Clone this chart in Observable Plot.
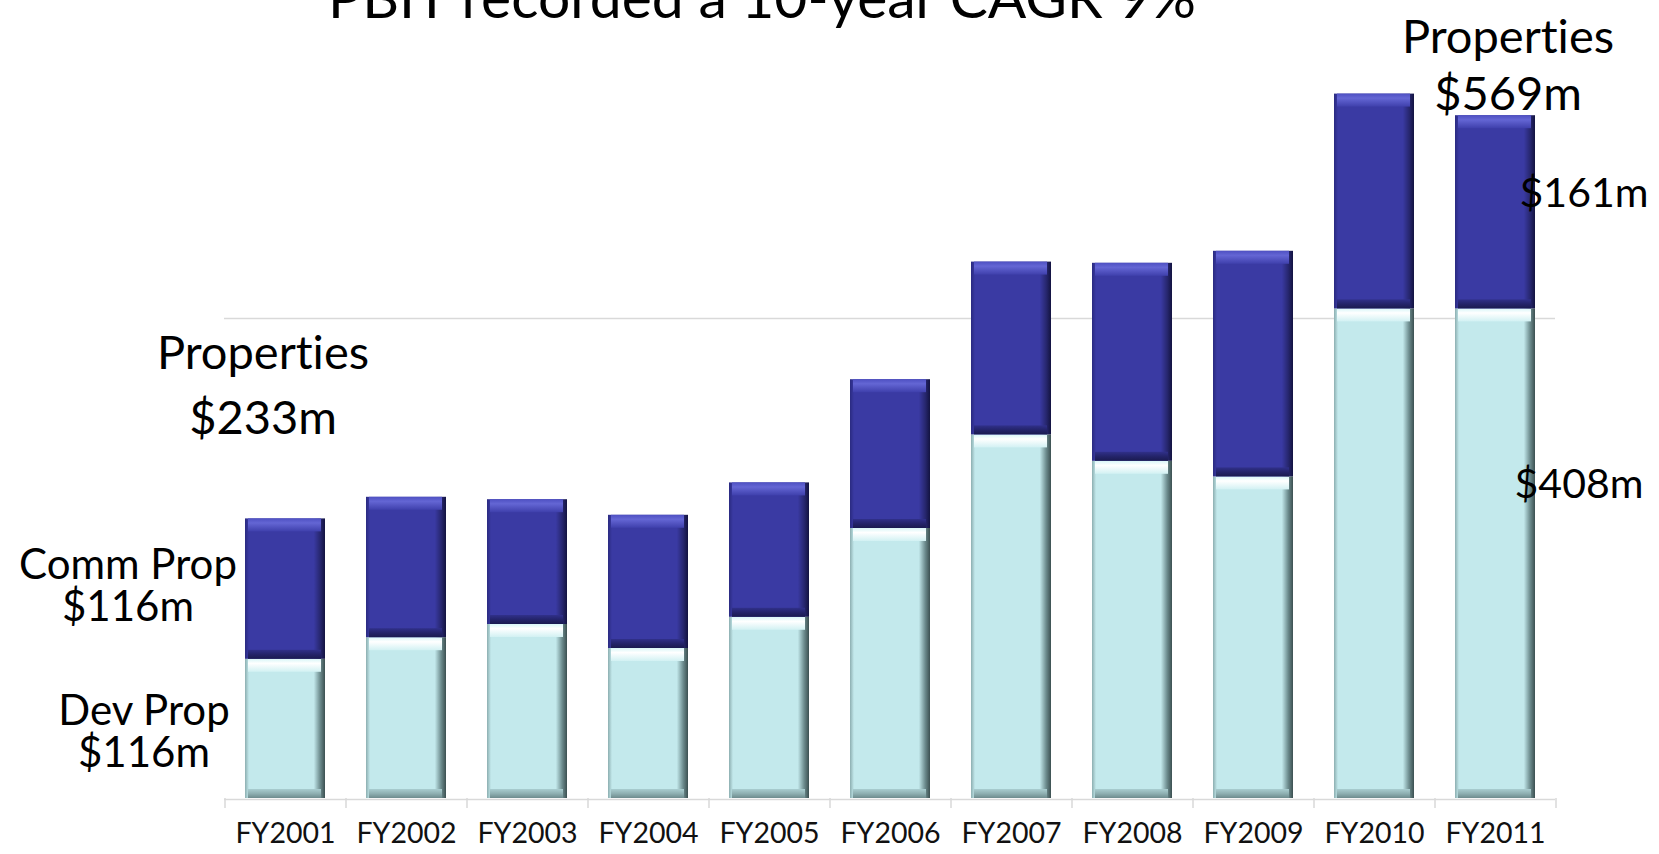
<!DOCTYPE html>
<html>
<head>
<meta charset="utf-8">
<script src="https://cdn.jsdelivr.net/npm/d3@7"></script>
<script src="https://cdn.jsdelivr.net/npm/@observablehq/plot@0.6"></script>
<style>
  html, body { margin: 0; padding: 0; background: #fff; overflow: hidden; }
  #wrap { position: relative; width: 1659px; height: 854px; }
  #title { position: absolute; left: 0; top: -32px; width: 1524px; text-align: center;
           font-family: Lato, "Open Sans", sans-serif; font-size: 57px; line-height: 1; color: #000;
           white-space: nowrap; font-variant-ligatures: none; }
  #chart svg { display: block; font-variant-ligatures: none; }
</style>
</head>
<body>
<div id="wrap">
  <div id="chart"></div>
  <div id="title">PBIT recorded a 10-year CAGR 9%</div>
</div>
<script>
// ---- data ----
const years = ["FY2001","FY2002","FY2003","FY2004","FY2005","FY2006","FY2007","FY2008","FY2009","FY2010","FY2011"];
const devProp  = [116, 134, 145, 125, 151, 225, 303, 281, 268, 408, 408];
const commProp = [117, 117, 104, 111, 112, 124, 144, 165, 188, 179, 161];
const gridValues = [400];

// ---- derived table ----
const rows = [];
years.forEach((y, i) => {
  rows.push({year: y, series: "Dev Prop", lo: 0, hi: devProp[i]});
  rows.push({year: y, series: "Comm Prop", lo: devProp[i], hi: devProp[i] + commProp[i]});
});
const dev = rows.filter(d => d.series === "Dev Prop");
const comm = rows.filter(d => d.series === "Comm Prop");
const first = 0, last = years.length - 1;

const font = "Lato, 'Open Sans', sans-serif";
const anno = (datum, text, dx, dy, size, lh) =>
  Plot.text([datum], {x: "year", y: "v", text: () => text, dx, dy, fontSize: size, lineHeight: lh,
    fill: "#000", textAnchor: "middle", lineAnchor: "middle", fontFamily: font});

const chart = Plot.plot({
  width: 1659,
  height: 854,
  marginLeft: 224,
  marginRight: 104,
  marginTop: 0,
  marginBottom: 56,
  style: {fontFamily: font, fontSize: "28.5px", color: "#111", background: "#fff"},
  x: {domain: years, paddingInner: 0.34, paddingOuter: 0.17, tickSize: 0, tickPadding: 24, label: null},
  y: {domain: [0, 665], axis: null},
  marks: [
    Plot.ruleY(gridValues, {stroke: "#d9d9d9", strokeWidth: 1.5}),
    Plot.ruleY([0], {stroke: "#d9d9d9", strokeWidth: 1.5, dy: 1}),
    Plot.ruleX(years, {x: d => d, y1: 0, y2: 0, dx: -60.5, insetBottom: -10, stroke: "#d9d9d9", strokeWidth: 1.5}),
    Plot.ruleX([years[last]], {x: d => d, y1: 0, y2: 0, dx: 60.5, insetBottom: -10, stroke: "#d9d9d9", strokeWidth: 1.5}),
    // light (Dev Prop) segments
    Plot.barY(dev, {x: "year", y1: "lo", y2: "hi", fill: "url(#gLightH)"}),
    Plot.barY(dev, {x: "year", y1: "hi", y2: "hi", insetBottom: -13, insetLeft: 3, insetRight: 4, fill: "url(#gLightTop)"}),
    Plot.barY(dev, {x: "year", y1: "lo", y2: "lo", insetTop: -9, insetLeft: 3, insetRight: 4, fill: "url(#gLightBot)"}),
    // dark (Comm Prop) segments
    Plot.barY(comm, {x: "year", y1: "lo", y2: "hi", fill: "url(#gDarkH)"}),
    Plot.barY(comm, {x: "year", y1: "hi", y2: "hi", insetBottom: -13, insetLeft: 3, insetRight: 4, fill: "url(#gDarkTop)"}),
    Plot.barY(comm, {x: "year", y1: "lo", y2: "lo", insetTop: -9, insetLeft: 3, insetRight: 4, fill: "url(#gDarkBot)"}),
    // annotations
    anno({year: years[first], v: devProp[first] + commProp[first]}, "Properties\n$233m", -22.5, -138, 47, 1.38),
    anno({year: years[first], v: devProp[first] + commProp[first] / 2}, "Comm Prop\n$116m", -157.5, -3, 42, 1.0),
    anno({year: years[first], v: devProp[first] / 2}, "Dev Prop\n$116m", -141.5, 4, 42, 1.0),
    anno({year: years[last], v: devProp[last] + commProp[last]}, "Properties\n$569m", 12.5, -52, 47, 1.21),
    anno({year: years[last], v: devProp[last] + commProp[last] / 2}, "$161m", 88.5, -18, 41, 1),
    anno({year: years[last], v: devProp[last] / 2}, "$408m", 83.5, -69, 41, 1)
  ]
});

// gradient definitions for the bevelled bars
const defs = d3.select(chart).insert("defs", ":first-child");
function grad(id, horiz, stops) {
  const g = defs.append("linearGradient").attr("id", id)
    .attr("x1", 0).attr("y1", 0).attr("x2", horiz ? 1 : 0).attr("y2", horiz ? 0 : 1);
  stops.forEach(([o, c]) => g.append("stop").attr("offset", o).attr("stop-color", c));
}
grad("gDarkH", true, [[0, "#2a2a80"], [0.05, "#3a3aa3"], [0.86, "#3a3aa3"], [0.94, "#27276f"], [1, "#131340"]]);
grad("gDarkTop", false, [[0, "#4e50c2"], [0.35, "#6466d4"], [1, "#3f40ac"]]);
grad("gDarkBot", false, [[0, "#30308a"], [0.5, "#24246a"], [1, "#1a1a50"]]);
grad("gLightH", true, [[0, "#8caeb0"], [0.05, "#c3e9ec"], [0.86, "#c3e9ec"], [0.94, "#6c8b8d"], [1, "#3c5051"]]);
grad("gLightTop", false, [[0, "#d8f6f8"], [0.35, "#ffffff"], [1, "#d2f1f3"]]);
grad("gLightBot", false, [[0, "#a9cdd0"], [0.5, "#8fb0b2"], [1, "#6e8c8e"]]);

document.getElementById("chart").appendChild(chart);
</script>
</body>
</html>
